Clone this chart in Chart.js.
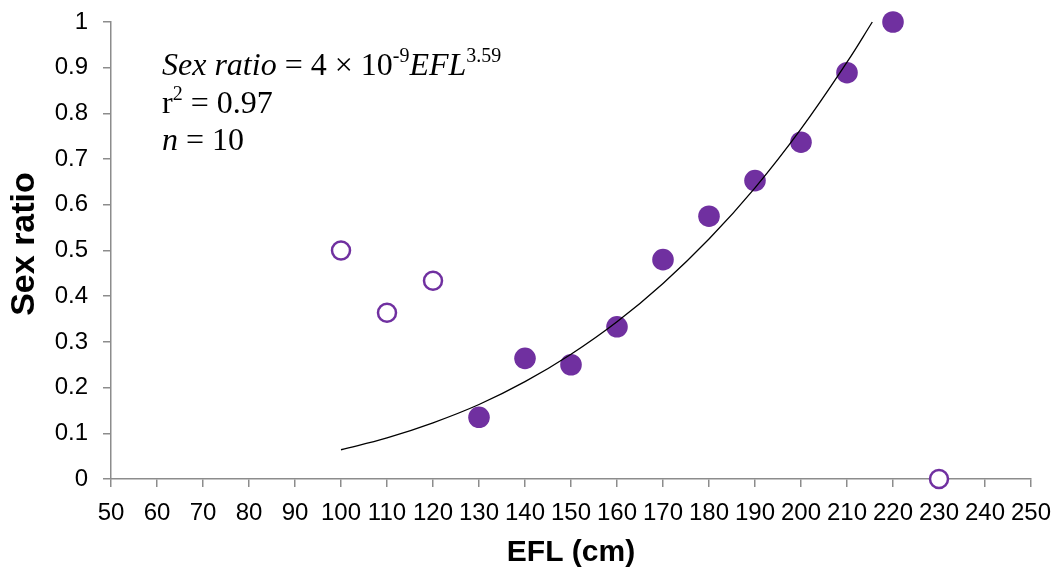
<!DOCTYPE html>
<html>
<head>
<meta charset="utf-8">
<script src="https://cdn.jsdelivr.net/npm/chart.js@4/dist/chart.umd.min.js"></script>
<style>
html,body{margin:0;padding:0;background:#fff;}
#wrap{position:relative;width:1059px;height:573px;}
</style>
</head>
<body>
<div id="wrap"><canvas id="c" width="1059" height="573"></canvas></div>
<script>
// Data
const filledEFL   = [130, 140, 150, 160, 170, 180, 190, 200, 210, 220];
const filledRatio = [0.135, 0.264, 0.25, 0.333, 0.48, 0.575, 0.653, 0.737, 0.889, 1.0];
const openEFL     = [100, 110, 120, 230];
const openRatio   = [0.5, 0.364, 0.434, 0.0];
// Power trend line
const trendEFL    = [100, 110, 120, 130, 140, 150, 160, 170, 180, 190, 200, 210, 215.5];
const trendRatio  = [0.064, 0.09, 0.123, 0.163, 0.213, 0.273, 0.344, 0.428, 0.525, 0.637, 0.766, 0.912, 1.0];
const xTickLabels = ['50','60','70','80','90','100','110','120','130','140','150','160','170','180','190','200','210','220','230','240','250'];
const yTickLabels = ['0','0.1','0.2','0.3','0.4','0.5','0.6','0.7','0.8','0.9','1'];
const xTitle = 'EFL (cm)';
const yTitle = 'Sex ratio';

const purple = '#7030A0';
const axisGray = '#8c8c8c';
const sans = '"Liberation Sans", Arial, sans-serif';

const toPts = (xs, ys) => xs.map((x, i) => ({x: x, y: ys[i]}));

const annotation = {
  id: 'annotation',
  afterDraw(chart) {
    const ctx = chart.ctx;
    ctx.save();
    ctx.fillStyle = '#000';
    ctx.textBaseline = 'alphabetic';
    const serif = '"Liberation Serif", "Times New Roman", serif';
    const big = 32, small = 20, sup = 13;
    let x = 162, y = 75;
    const put = (txt, style, size, dy) => {
      ctx.font = style + ' ' + size + 'px ' + serif;
      ctx.fillText(txt, x, y - (dy || 0));
      x += ctx.measureText(txt).width;
    };
    put('Sex ratio', 'italic', big);
    put(' = 4 \u00d7 10', 'normal', big);
    put('-9', 'normal', small, sup);
    put('EFL', 'italic', big);
    put('3.59', 'normal', small, sup);
    x = 162; y = 113;
    put('r', 'normal', big);
    put('2', 'normal', small, sup);
    put(' = 0.97', 'normal', big);
    x = 162; y = 150;
    put('n', 'italic', big);
    put(' = 10', 'normal', big);

    // y axis title
    ctx.save();
    ctx.translate(25, 244);
    ctx.rotate(-Math.PI / 2);
    ctx.font = 'bold 34px ' + sans;
    ctx.textAlign = 'center';
    ctx.textBaseline = 'middle';
    ctx.fillText(yTitle, 0, 0);
    ctx.restore();
    ctx.restore();
  }
};

new Chart(document.getElementById('c'), {
  type: 'scatter',
  data: {
    datasets: [
      {
        label: 'Trend',
        data: toPts(trendEFL, trendRatio),
        showLine: true,
        borderColor: '#000',
        borderWidth: 1.3,
        pointRadius: 0,
        tension: 0.4,
        fill: false,
        clip: false
      },
      {
        label: 'Included',
        data: toPts(filledEFL, filledRatio),
        backgroundColor: purple,
        borderColor: purple,
        borderWidth: 0,
        pointRadius: 10.8,
        pointHoverRadius: 10.8,
        clip: false
      },
      {
        label: 'Excluded',
        data: toPts(openEFL, openRatio),
        backgroundColor: '#fff',
        borderColor: purple,
        borderWidth: 2.5,
        pointRadius: 9,
        pointHoverRadius: 9,
        clip: false
      }
    ]
  },
  options: {
    responsive: false,
    animation: false,
    layout: { padding: { top: 22, right: 28, left: 0, bottom: 0 } },
    plugins: { legend: { display: false }, tooltip: { enabled: false } },
    scales: {
      x: {
        type: 'linear',
        min: 50, max: 250,
        afterBuildTicks(scale) {
          scale.ticks = xTickLabels.map(v => ({ value: Number(v) }));
        },
        afterFit(scale) { scale.height = 94; scale.paddingRight = 0; scale.paddingLeft = 0; },
        grid: { drawOnChartArea: false, drawTicks: true, tickLength: 8, color: axisGray, lineWidth: 1.5 },
        border: { color: axisGray, width: 1.5 },
        ticks: {
          autoSkip: false, maxRotation: 0, minRotation: 0,
          color: '#000',
          padding: 12,
          font: { family: sans, size: 24 },
          callback: (v, i) => xTickLabels[i]
        },
        title: {
          display: true, text: xTitle, color: '#000',
          font: { family: sans, size: 30, weight: 'bold' },
          padding: { top: 0, bottom: 2 }
        }
      },
      y: {
        type: 'linear',
        min: 0, max: 1,
        afterBuildTicks(scale) {
          scale.ticks = yTickLabels.map(v => ({ value: Number(v) }));
        },
        afterFit(scale) { scale.width = 111; scale.paddingTop = 0; scale.paddingBottom = 0; },
        grid: { drawOnChartArea: false, drawTicks: true, tickLength: 8, color: axisGray, lineWidth: 1.5 },
        border: { color: axisGray, width: 1.5 },
        ticks: {
          color: '#000',
          padding: 15,
          font: { family: sans, size: 24 },
          callback: (v, i) => yTickLabels[i]
        },
        title: { display: false }
      }
    }
  },
  plugins: [annotation]
});
</script>
</body>
</html>
